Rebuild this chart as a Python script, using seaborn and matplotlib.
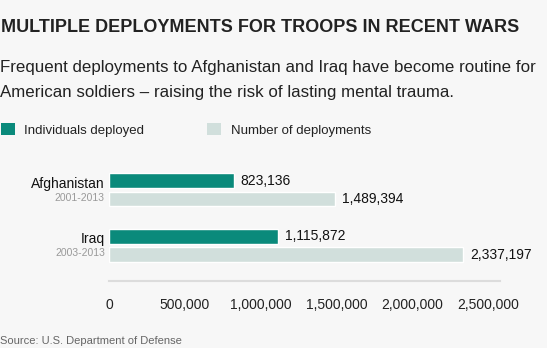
import matplotlib
matplotlib.use("Agg")
import matplotlib.pyplot as plt
import seaborn as sns
import pandas as pd
from matplotlib.patches import Patch

# ---- data ----
wars = ["Afghanistan", "Iraq"]
periods = ["2001-2013", "2003-2013"]
individuals_deployed = [823136, 1115872]
number_of_deployments = [1489394, 2337197]
series_names = ["Individuals deployed", "Number of deployments"]
x_ticks = [0, 500000, 1000000, 1500000, 2000000, 2500000]

title = "MULTIPLE DEPLOYMENTS FOR TROOPS IN RECENT WARS"
subtitle_lines = ["Frequent deployments to Afghanistan and Iraq have become routine for",
                  "American soldiers \u2013 raising the risk of lasting mental trauma."]
source = "Source: U.S. Department of Defense"

TEAL = "#0a8a7b"
LIGHT = "#d1dfdc"
BG = "#f7f7f7"

df = pd.DataFrame({
    "war": wars * 2,
    "measure": [series_names[0]] * len(wars) + [series_names[1]] * len(wars),
    "value": individuals_deployed + number_of_deployments,
})

sns.set_theme(style="white")
plt.rcParams["font.family"] = ["Liberation Sans", "DejaVu Sans"]

W, H = 547, 348
fig = plt.figure(figsize=(W / 100, H / 100), dpi=100, facecolor=BG)
ax = fig.add_axes([109 / W, 1 - 281 / H, (500 - 109) / W, (281 - 160) / H])
ax.set_facecolor(BG)

sns.barplot(data=df, y="war", x="value", hue="measure", orient="h",
            palette=[TEAL, LIGHT], width=0.66, gap=0.2, legend=False,
            saturation=1, ax=ax)

ax.set_xlim(0, 2.58e6)
ax.set_ylim(1.637, -0.534)
ax.set_xticks(x_ticks)
ax.set_xticklabels([f"{t:,}" for t in x_ticks], fontsize=10, color="#222222")
ax.tick_params(axis="x", length=0, pad=12)
ax.set_yticks([])
ax.set_xlabel("")
ax.set_ylabel("")
for s in ["top", "left", "right"]:
    ax.spines[s].set_visible(False)
ax.spines["bottom"].set_color("#dcdcdc")
ax.spines["bottom"].set_linewidth(1.5)

for cont in ax.containers:
    ax.bar_label(cont, labels=[f"{v:,.0f}" for v in cont.datavalues],
                 padding=5, fontsize=10, color="#111111")

for i, (w, p) in enumerate(zip(wars, periods)):
    ax.annotate(w, xy=(0, i - 0.04), xycoords=ax.get_yaxis_transform(),
                xytext=(-3, 0), textcoords="offset points",
                ha="right", va="baseline", fontsize=10, color="#111111")
    ax.annotate(p, xy=(0, i + 0.195), xycoords=ax.get_yaxis_transform(),
                xytext=(-3, 0), textcoords="offset points",
                ha="right", va="baseline", fontsize=7.5, color="#999999")

fig.text(1 / W, 1 - 32 / H, title, fontsize=13, fontweight="bold",
         color="#222222", va="baseline", ha="left")
fig.text(0, 1 - 72 / H, subtitle_lines[0], fontsize=12.2, color="#222222",
         va="baseline", ha="left")
fig.text(0, 1 - 97 / H, subtitle_lines[1], fontsize=12.2, color="#222222",
         va="baseline", ha="left")

handles = [Patch(facecolor=c, edgecolor="none") for c in [TEAL, LIGHT]]
fig.legend(handles, series_names, loc="center left",
           bbox_to_anchor=(1 / W, 1 - 130 / H), ncol=2, frameon=False,
           fontsize=9.5, handlelength=1.05, handleheight=1.05,
           handletextpad=0.7, columnspacing=4.8, borderpad=0,
           borderaxespad=0, labelcolor="#222222")

fig.text(0, 1 - 344 / H, source, fontsize=8, color="#666666",
         va="baseline", ha="left")

fig.savefig("out.png", dpi=100, facecolor=BG)
